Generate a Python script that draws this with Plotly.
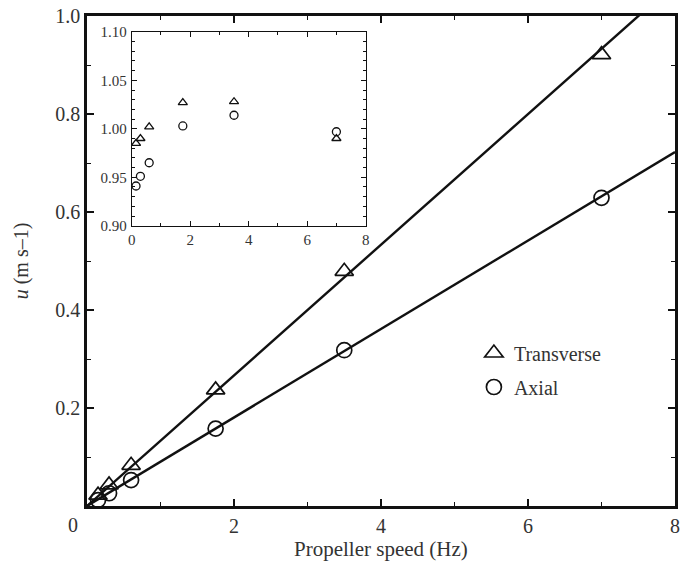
import plotly.graph_objects as go

# ---- data ----
speed_hz = [0.15, 0.3, 0.6, 1.75, 3.5, 7.0]
u_transverse = [0.022, 0.043, 0.083, 0.237, 0.479, 0.921]
u_axial = [0.012, 0.026, 0.053, 0.158, 0.318, 0.629]

fit_slope_transverse = 0.1333
fit_slope_axial = 0.0903
fit_x = [0.0, 8.0]

inset_speed_hz = [0.15, 0.3, 0.6, 1.75, 3.5, 7.0]
inset_transverse = [0.985, 0.990, 1.002, 1.027, 1.028, 0.990]
inset_axial = [0.941, 0.951, 0.965, 1.003, 1.014, 0.997]

main_y_ticks = [0.2, 0.4, 0.6, 0.8, 1.0]
main_y_labels = ["0.2", "0.4", "0.6", "0.8", "1.0"]
main_x_ticks = [2, 4, 6, 8]
main_x_labels = ["2", "4", "6", "8"]
inset_y_ticks = [0.90, 0.95, 1.00, 1.05, 1.10]
inset_y_labels = ["0.90", "0.95", "1.00", "1.05", "1.10"]
inset_x_ticks = [0, 2, 4, 6, 8]

FONT = "Liberation Serif, Times New Roman, serif"
INK = "#111111"
TXT = "#333333"

fig = go.Figure()

# fit lines
fig.add_trace(go.Scatter(x=fit_x, y=[fit_slope_transverse * v for v in fit_x], mode="lines",
                         line=dict(color=INK, width=2.4), showlegend=False, hoverinfo="skip"))
fig.add_trace(go.Scatter(x=fit_x, y=[fit_slope_axial * v for v in fit_x], mode="lines",
                         line=dict(color=INK, width=2.4), showlegend=False, hoverinfo="skip"))

# main markers
fig.add_trace(go.Scatter(x=speed_hz, y=u_transverse, mode="markers", name="Transverse",
                         legendgroup="t",
                         marker=dict(symbol="triangle-up-open", size=16, color=INK,
                                     line=dict(width=1.7, color=INK)), cliponaxis=False))
fig.add_trace(go.Scatter(x=speed_hz, y=u_axial, mode="markers", name="Axial",
                         legendgroup="a",
                         marker=dict(symbol="circle-open", size=15, color=INK,
                                     line=dict(width=1.7, color=INK)), cliponaxis=False))

# inset markers
fig.add_trace(go.Scatter(x=inset_speed_hz, y=inset_transverse, mode="markers", xaxis="x2", yaxis="y2",
                         showlegend=False,
                         marker=dict(symbol="triangle-up-open", size=8, color=INK,
                                     line=dict(width=1.3, color=INK))))
fig.add_trace(go.Scatter(x=inset_speed_hz, y=inset_axial, mode="markers", xaxis="x2", yaxis="y2",
                         showlegend=False,
                         marker=dict(symbol="circle-open", size=8, color=INK,
                                     line=dict(width=1.3, color=INK))))

main_axis_common = dict(showgrid=False, zeroline=False, showline=True, linecolor=INK, linewidth=2.5,
                        mirror="ticks", ticks="inside", ticklen=7, tickwidth=1.5, tickcolor=INK,
                        tickfont=dict(family=FONT, size=20, color=TXT))

fig.update_layout(
    width=685, height=571,
    margin=dict(l=87, r=5, t=13, b=65),
    paper_bgcolor="white", plot_bgcolor="white",
    font=dict(family=FONT, color=TXT),
    xaxis=dict(range=[0, 8], tickvals=main_x_ticks, ticktext=main_x_labels,
               minor=dict(dtick=1, tick0=0, ticks="inside", ticklen=4, tickwidth=1.2, tickcolor=INK),
               **main_axis_common),
    yaxis=dict(range=[0, 1.0], tickvals=main_y_ticks, ticktext=main_y_labels,
               minor=dict(dtick=0.1, tick0=0, ticks="inside", ticklen=4, tickwidth=1.2, tickcolor=INK),
               title=dict(text="<i>u</i> (m s–1)", font=dict(family=FONT, size=20, color=TXT), standoff=22),
               **main_axis_common),
    xaxis2=dict(domain=[0.0759, 0.4739], anchor="y2", range=[0, 8], tickvals=inset_x_ticks,
                showgrid=False, zeroline=False, showline=True, linecolor=INK, linewidth=1,
                mirror="ticks", ticks="inside", ticklen=5, tickwidth=1, tickcolor=INK,
                minor=dict(dtick=1, tick0=0, ticks="inside", ticklen=3, tickwidth=1, tickcolor=INK),
                tickfont=dict(family=FONT, size=15, color=TXT)),
    yaxis2=dict(domain=[0.572, 0.9675], anchor="x2", range=[0.90, 1.10], tickvals=inset_y_ticks,
                ticktext=inset_y_labels,
                showgrid=False, zeroline=False, showline=True, linecolor=INK, linewidth=1,
                mirror="ticks", ticks="inside", ticklen=5, tickwidth=1, tickcolor=INK,
                minor=dict(dtick=0.01, tick0=0.9, ticks="inside", ticklen=3, tickwidth=1, tickcolor=INK),
                tickfont=dict(family=FONT, size=15, color=TXT), ticklabelstandoff=1),
    legend=dict(x=0.658, y=0.352, xanchor="left", yanchor="top", bgcolor="rgba(0,0,0,0)",
                font=dict(family=FONT, size=20, color=TXT), tracegroupgap=5),
    annotations=[
        dict(text="0", xref="paper", yref="paper", x=-0.0236, y=-0.0385, xanchor="center",
             yanchor="middle", showarrow=False, font=dict(family=FONT, size=20, color=TXT)),
        dict(text="Propeller speed (Hz)", xref="paper", yref="paper", x=0.5, y=-0.087,
             xanchor="center", yanchor="middle", showarrow=False,
             font=dict(family=FONT, size=21, color=TXT)),
    ],
)

fig.write_html("out.html")
